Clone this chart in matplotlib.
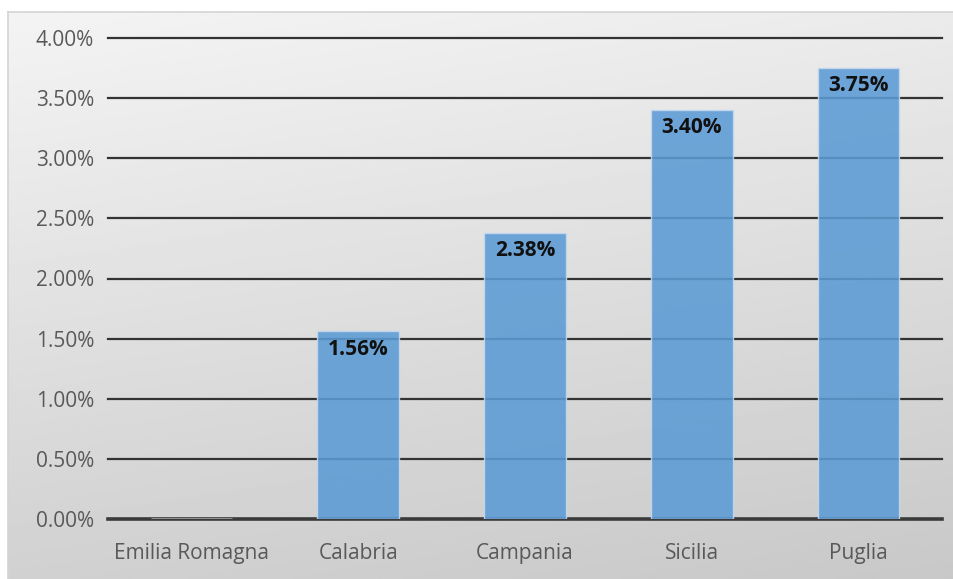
import numpy as np
import matplotlib.pyplot as plt
from matplotlib.ticker import FuncFormatter

regions = ['Emilia Romagna', 'Calabria', 'Campania', 'Sicilia', 'Puglia']
rates = [0.0000, 0.0156, 0.0238, 0.0340, 0.0375]
y_ticks = [0.0, 0.005, 0.01, 0.015, 0.02, 0.025, 0.03, 0.035, 0.04]

plt.rcParams['font.family'] = ['Open Sans', 'DejaVu Sans']

fig = plt.figure(figsize=(9.54, 5.79), dpi=100)
fig.patch.set_facecolor('white')

# grey gradient panel behind the chart
bg = fig.add_axes([8 / 954, 0, 1 - 8 / 954, 1 - 12 / 579])
gx, gy = np.meshgrid(np.linspace(0, 1, 200), np.linspace(0, 1, 200))
shade = 0.955 - 0.17 * (0.8 * gy + 0.2 * gx)
bg.imshow(shade, cmap='gray', vmin=0, vmax=1, aspect='auto',
          extent=[0, 1, 1, 0], interpolation='bilinear')
bg.set_xlim(0, 1)
bg.set_ylim(1, 0)
bg.set_xticks([])
bg.set_yticks([])
for side in ['right', 'bottom']:
    bg.spines[side].set_visible(False)
for side in ['left', 'top']:
    bg.spines[side].set_color('#d4d4d4')
    bg.spines[side].set_linewidth(1.2)

ax = fig.add_axes([108 / 954, 60 / 579, 834 / 954, 481 / 579])
ax.patch.set_alpha(0)

x = np.arange(len(regions))
for y in y_ticks[1:]:
    ax.axhline(y, color='#333333', lw=1.6, zorder=1, clip_on=False)
ax.axhline(0, color='#3a3a3a', lw=2.6, zorder=1, clip_on=False)

bars = ax.bar(x, rates, width=0.49, color='#5b9bd5', alpha=0.88,
              edgecolor='#c5d9ee', linewidth=1.0, zorder=2)
# zero-height bar shows up as a grey stroke on the baseline
bars[0].set_edgecolor('#a8a8a8')
bars[0].set_linewidth(1.8)
bars[0].set_alpha(1)

for xi, v in zip(x, rates):
    if v > 0:
        ax.text(xi, v - 0.0006, f'{v * 100:.2f}%', ha='center', va='top',
                fontsize=15, fontweight='bold', color='#111111', zorder=3)

ax.set_xlim(-0.5, len(regions) - 0.5)
ax.set_ylim(0, 0.04)
ax.set_yticks(y_ticks)
ax.yaxis.set_major_formatter(FuncFormatter(lambda v, p: f'{v * 100:.2f}%'))
ax.set_xticks(x)
ax.set_xticklabels(regions)
ax.tick_params(axis='both', length=0, labelsize=15, colors='#595959')
ax.tick_params(axis='y', pad=10)
ax.tick_params(axis='x', pad=17)
for s in ax.spines.values():
    s.set_visible(False)

fig.savefig('out.png', dpi=100)
